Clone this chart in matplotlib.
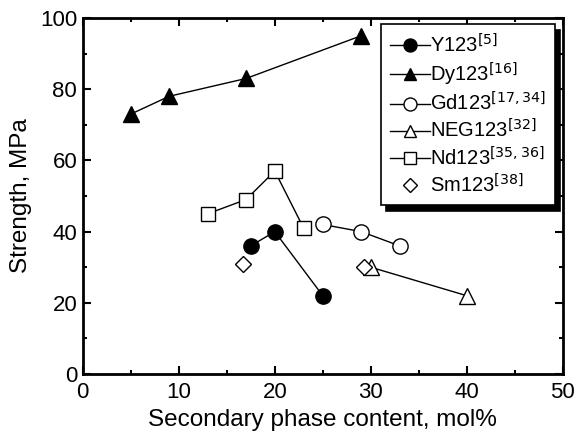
import numpy as np
import matplotlib.pyplot as plt
from matplotlib.ticker import MultipleLocator

plt.rcParams['font.family'] = ['Liberation Sans', 'DejaVu Sans']

# data
y123_x = [17.5, 20, 25]
y123_y = [36, 40, 22]
dy123_x = [5, 9, 17, 29]
dy123_y = [73, 78, 83, 95]
gd123_x = [25, 29, 33]
gd123_y = [42, 40, 36]
neg123_x = [30, 40]
neg123_y = [30, 22]
nd123_x = [13, 17, 20, 23]
nd123_y = [45, 49, 57, 41]
sm123_x = [16.7, 29.3]
sm123_y = [31, 30]

fig = plt.figure(figsize=(5.79, 4.38), dpi=100)
ax = fig.add_axes([0.143, 0.146, 0.829, 0.813])

ms = 11
ax.plot(y123_x, y123_y, 'k-', marker='o', ms=ms, mfc='k', lw=1, label='Y123$^{[5]}$')
ax.plot(dy123_x, dy123_y, 'k-', marker='^', ms=ms, mfc='k', lw=1, label='Dy123$^{[16]}$')
ax.plot(gd123_x, gd123_y, 'k-', marker='o', ms=ms, mfc='w', lw=1, label='Gd123$^{[17,34]}$')
ax.plot(neg123_x, neg123_y, 'k-', marker='^', ms=ms, mfc='w', lw=1, label='NEG123$^{[32]}$')
ax.plot(nd123_x, nd123_y, 'k-', marker='s', ms=ms-1, mfc='w', lw=1, label='Nd123$^{[35,36]}$')
ax.plot(sm123_x, sm123_y, 'k', ls='none', marker='D', ms=ms-3, mfc='w', label='Sm123$^{[38]}$')

ax.set_xlim(0, 50)
ax.set_ylim(0, 100)
ax.xaxis.set_major_locator(MultipleLocator(10))
ax.xaxis.set_minor_locator(MultipleLocator(5))
ax.yaxis.set_major_locator(MultipleLocator(20))
ax.yaxis.set_minor_locator(MultipleLocator(10))
ax.tick_params(which='both', direction='in', top=True, right=True, width=1.5, labelsize=16)
ax.tick_params(which='major', length=6)
ax.tick_params(which='minor', length=3)
ax.tick_params(axis='x', pad=6)
ax.tick_params(axis='y', pad=4)
for s in ax.spines.values():
    s.set_linewidth(2)

ax.set_xlabel('Secondary phase content, mol%', fontsize=17.5, labelpad=4)
ax.set_ylabel('Strength, MPa', fontsize=17.5, labelpad=6)

leg = ax.legend(loc='upper right', bbox_to_anchor=(0.983, 0.983), borderaxespad=0,
                fontsize=14.5, fancybox=False,
                shadow={'color': 'k', 'alpha': 1, 'ox': 4, 'oy': -4},
                framealpha=1, edgecolor='k', handlelength=2.0, handletextpad=0.0,
                labelspacing=0.2, borderpad=0.45, markerscale=0.85)
leg.get_frame().set_linewidth(1.2)

fig.savefig('out.png', dpi=100)
